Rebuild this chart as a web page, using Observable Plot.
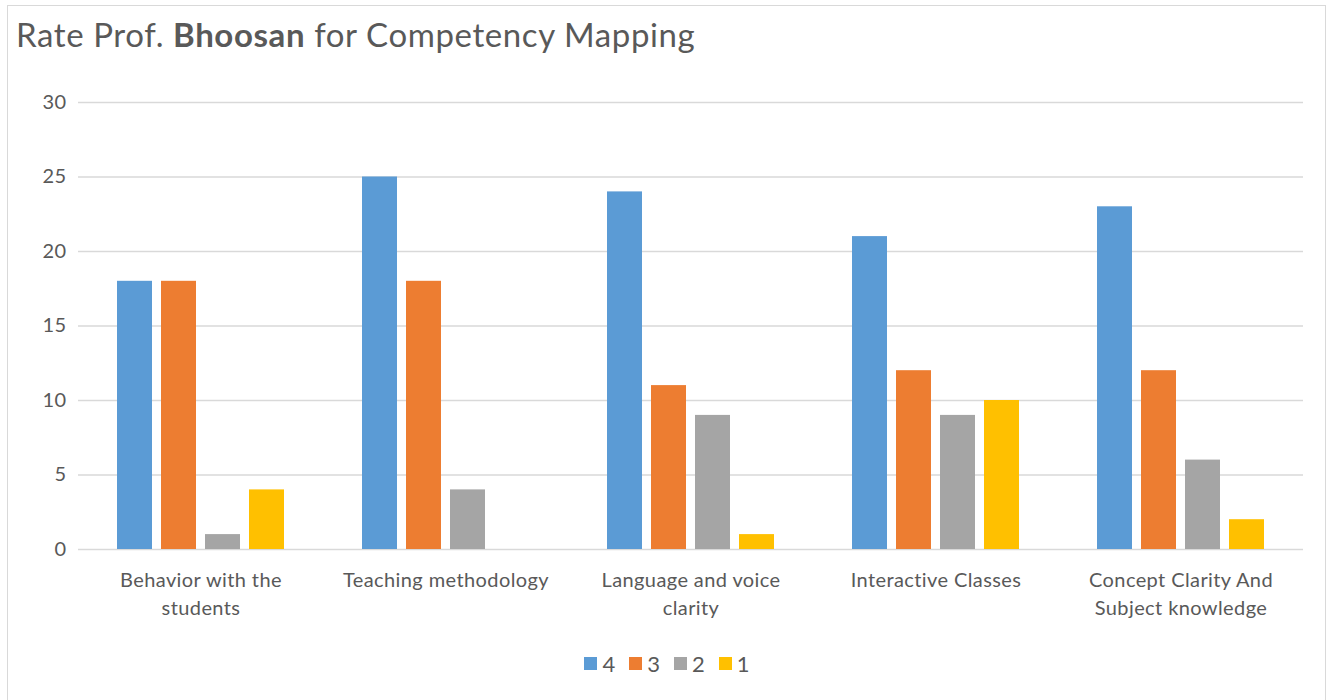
<!DOCTYPE html>
<html>
<head>
<meta charset="utf-8">
<script src="https://cdn.jsdelivr.net/npm/d3@7"></script>
<script src="https://cdn.jsdelivr.net/npm/@observablehq/plot@0.6"></script>
<style>
  html, body { margin: 0; padding: 0; background: #fff; }
  body { width: 1334px; height: 700px; position: relative; overflow: hidden; font-family: Lato, "Open Sans", sans-serif; }
  #frame { position: absolute; left: 7px; top: 5px; width: 1319px; height: 700px; border: 1.5px solid #d9d9d9; box-sizing: border-box; }
  #title { position: absolute; left: 16px; top: 14px; font-size: 33px; letter-spacing: 0.6px; color: #595959; white-space: nowrap; }
  #chart { position: absolute; left: 0; top: 85px; }
  #legend { position: absolute; left: 0; width: 1334px; top: 650px; display: flex; justify-content: center; gap: 14px; color: #595959; font-size: 22px; }
  #legend .item { display: flex; align-items: center; gap: 5px; }
  #legend .sw { width: 13px; height: 13px; display: inline-block; }
</style>
</head>
<body>
<div id="frame"></div>
<div id="title">Rate Prof. <b>Bhoosan</b> for Competency Mapping</div>
<div id="chart"></div>
<div id="legend"></div>
<script>
const categories = ["Behavior with the students", "Teaching methodology", "Language and voice clarity", "Interactive Classes", "Concept Clarity And Subject knowledge"];
const categoryLabels = ["Behavior with the\nstudents", "Teaching methodology", "Language and voice\nclarity", "Interactive Classes", "Concept Clarity And\nSubject knowledge"];
const seriesNames = ["4", "3", "2", "1"];
const seriesColors = ["#5b9bd5", "#ed7d31", "#a5a5a5", "#ffc000"];
const values4 = [18, 25, 24, 21, 23];
const values3 = [18, 18, 11, 12, 12];
const values2 = [1, 4, 9, 9, 6];
const values1 = [4, 0, 1, 10, 2];
const yTicks = [0, 5, 10, 15, 20, 25, 30];

const seriesValues = [values4, values3, values2, values1];
const data = [];
categories.forEach((c, i) => {
  seriesNames.forEach((s, j) => {
    data.push({category: c, series: s, value: seriesValues[j][i]});
  });
});
const labelOf = new Map(categories.map((c, i) => [c, categoryLabels[i]]));

const chart = Plot.plot({
  width: 1334,
  height: 540,
  marginLeft: 77,
  marginRight: 30,
  marginTop: 17,
  marginBottom: 76,
  style: {fontFamily: "Lato, 'Open Sans', sans-serif", color: "#595959", background: "transparent", letterSpacing: "0.4px"},
  fx: {domain: categories, padding: 0, label: null},
  x: {domain: seriesNames, paddingInner: 0.2, paddingOuter: 0.86, axis: null},
  y: {domain: [0, 30], label: null},
  color: {domain: seriesNames, range: seriesColors},
  marks: [
    Plot.ruleY(yTicks, {stroke: "#d9d9d9", strokeWidth: 1.5}),
    Plot.barY(data, {fx: "category", x: "series", y: "value", fill: "series"}),
    Plot.axisY({ticks: yTicks, tickSize: 0, tickPadding: 12, fontSize: 20, label: null}),
    Plot.axisFx({anchor: "bottom", tickSize: 0, tickPadding: 18, fontSize: 20, lineHeight: 1.4, label: null, tickFormat: d => labelOf.get(d)})
  ]
});
document.getElementById("chart").appendChild(chart);

const legend = document.getElementById("legend");
seriesNames.forEach((s, i) => {
  const item = document.createElement("div");
  item.className = "item";
  const sw = document.createElement("span");
  sw.className = "sw";
  sw.style.background = seriesColors[i];
  const t = document.createElement("span");
  t.textContent = s;
  item.appendChild(sw);
  item.appendChild(t);
  legend.appendChild(item);
});
</script>
</body>
</html>
